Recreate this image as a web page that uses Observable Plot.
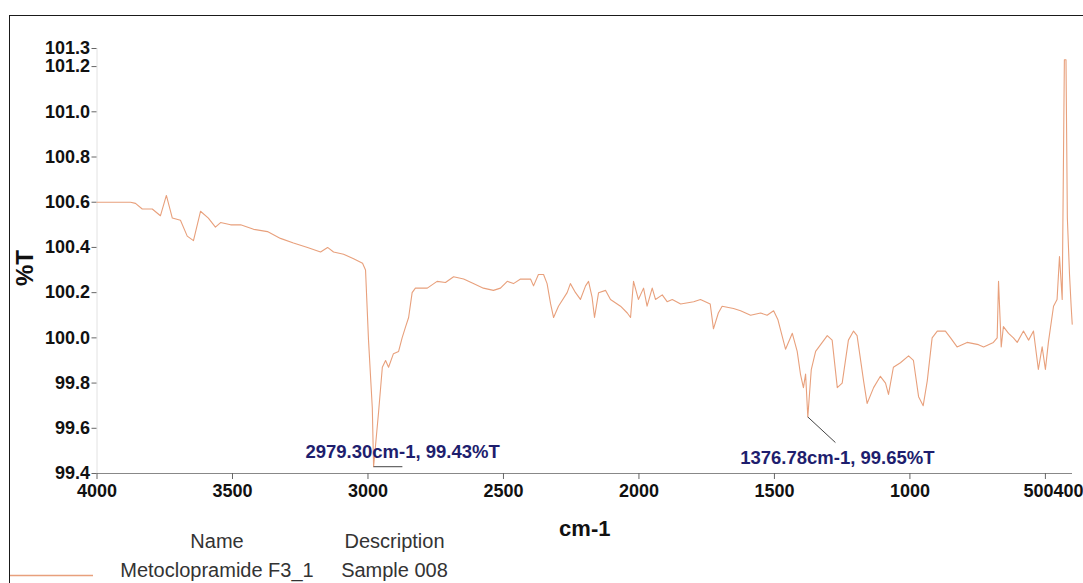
<!DOCTYPE html>
<html>
<head>
<meta charset="utf-8">
<script src="https://cdn.jsdelivr.net/npm/d3@7"></script>
<script src="https://cdn.jsdelivr.net/npm/@observablehq/plot@0.6"></script>
<style>
  html, body { margin: 0; padding: 0; background: #fff; }
  body { font-family: "Liberation Sans", Arial, sans-serif; }
  #wrap { position: relative; width: 1083px; height: 583px; overflow: hidden; background: #fff; }
  #frame { position: absolute; left: 9px; top: 15px; width: 1200px; height: 700px; border: 1.5px solid #1a1a1a; box-sizing: border-box; }
  #chart { position: absolute; left: 0; top: 0; }
  #ylab { position: absolute; left: 25px; top: 268px; transform: translate(-50%, -50%) rotate(-90deg); font-size: 24px; font-weight: bold; color: #111; white-space: nowrap; }
  .lg { position: absolute; width: 300px; text-align: center; font-size: 20px; line-height: 24px; color: #333; white-space: nowrap; }
  #lgsvg { position: absolute; left: 0; top: 568px; }
</style>
</head>
<body>
<div id="wrap">
  <div id="frame"></div>
  <div id="chart"></div>
  <div id="ylab"></div>
  <div id="legend"></div>
</div>
<script>
// ---- data ----
const wavenumber = [
  4000,3939,3876,3858,3833,3796,3766,3744,3722,3692,
  3667,3644,3618,3589,3563,3544,3507,3470,3422,3371,
  3323,3275,3223,3175,3149,3127,3090,3053,3020,3009,
  2998,2984,2979.3,2961,2947,2935,2924,2906,2887,2874,
  2861,2850,2837,2825,2781,2745,2714,2684,2647,2611,
  2574,2537,2511,2486,2463,2437,2400,2389,2371,2352,
  2339,2326,2315,2297,2265,2253,2234,2216,2197,2186,
  2173,2164,2149,2123,2105,2068,2043,2031,2020,2002,
  1983,1970,1951,1939,1914,1896,1877,1846,1798,1773,
  1737,1725,1707,1693,1651,1625,1588,1551,1527,1503,
  1487,1459,1434,1416,1404,1393,1385,1376.78,1364,1348,
  1305,1287,1268,1250,1227,1208,1195,1171,1158,1134,
  1109,1090,1079,1061,1035,1005,987,968,951,936,
  918,899,869,850,826,789,747,728,692,678,
  673,663,655,636,618,604,581,562,544,526,
  512,500,489,470,457,448,438,430,424,419,
  411,405,401
];
const transmittance = [
  100.60,100.60,100.60,100.595,100.57,100.57,100.54,100.63,100.53,100.52,
  100.45,100.43,100.56,100.53,100.49,100.51,100.50,100.50,100.48,100.47,
  100.44,100.42,100.40,100.38,100.40,100.38,100.37,100.35,100.33,100.30,
  99.99,99.69,99.43,99.67,99.87,99.90,99.87,99.93,99.94,100.00,
  100.05,100.09,100.20,100.22,100.22,100.25,100.245,100.27,100.26,100.24,
  100.22,100.21,100.22,100.25,100.24,100.26,100.26,100.23,100.28,100.28,
  100.24,100.15,100.09,100.14,100.20,100.24,100.20,100.17,100.23,100.25,
  100.18,100.09,100.20,100.21,100.17,100.14,100.11,100.09,100.25,100.17,
  100.22,100.14,100.22,100.17,100.19,100.16,100.17,100.15,100.16,100.17,
  100.15,100.04,100.11,100.14,100.13,100.12,100.10,100.11,100.10,100.12,
  100.08,99.95,100.02,99.94,99.84,99.78,99.84,99.65,99.86,99.94,
  100.01,99.99,99.78,99.80,99.99,100.03,100.01,99.81,99.71,99.78,
  99.83,99.80,99.75,99.87,99.89,99.92,99.90,99.74,99.70,99.81,
  100.00,100.03,100.03,100.00,99.96,99.98,99.97,99.96,99.98,100.00,
  100.25,99.96,100.05,100.02,100.00,99.98,100.03,99.99,100.03,99.86,
  99.96,99.86,99.98,100.14,100.17,100.36,100.17,101.23,101.23,100.53,
  100.28,100.14,100.06
];
const xTicks = [4000, 3500, 3000, 2500, 2000, 1500, 1000, 500];
const xNearEnd = [500];
const xEnd = [400];
const yTicks = [99.4, 99.6, 99.8, 100.0, 100.2, 100.4, 100.6, 100.8, 101.0, 101.2, 101.28];
const peakWn = [2979.30, 1376.78];
const peakT = [99.43, 99.65];
const leaderEndWn = [2873, 1275];
const leaderEndT = [99.43, 99.537];
const xLabel = "cm-1";
const yLabel = "%T";
const legendHeaders = ["Name", "Description"];
const legendName = ["Metoclopramide F3_1"];
const legendDesc = ["Sample 008"];

const lineColor = "#e8a07c";
const spectrum = wavenumber.map((w, i) => ({wn: w, t: transmittance[i]}));
const peaks = peakWn.map((w, i) => ({
  wn: w, t: peakT[i], wn2: leaderEndWn[i], t2: leaderEndT[i],
  label: `${w.toFixed(2)}cm-1, ${peakT[i].toFixed(2)}%T`
}));

const chart = Plot.plot({
  width: 1083,
  height: 540,
  marginLeft: 96.5,
  marginRight: 11,
  marginTop: 48,
  marginBottom: 67,
  style: {
    fontFamily: '"Liberation Sans", Arial, sans-serif',
    fontSize: "18px",
    fontWeight: "bold",
    color: "#111",
    background: "transparent",
    overflow: "visible"
  },
  x: {domain: [4000, 400]},
  y: {domain: [99.4, 101.28]},
  marks: [
    Plot.ruleX([4000], {stroke: "#e2e2e2"}),
    Plot.ruleY([99.4], {stroke: "#888"}),
    Plot.axisY({ticks: yTicks, tickSize: 5, tickPadding: 2, stroke: "#666",
      tickFormat: d => d.toFixed(1), label: null}),
    Plot.axisX({ticks: xTicks, tickSize: 6, tickPadding: 5, stroke: "#666",
      tickFormat: d => (xNearEnd.includes(d) ? "" : String(d)), label: null}),
    Plot.axisX({ticks: xNearEnd, tickSize: 0, tickPadding: 11, dx: -7,
      tickFormat: d => String(d), label: null}),
    Plot.axisX({ticks: xEnd, tickSize: 0, tickPadding: 11, textAnchor: "end", dx: 11,
      tickFormat: d => String(d), label: null}),
    Plot.line(spectrum, {x: "wn", y: "t", stroke: lineColor, strokeWidth: 1.1}),
    Plot.link(peaks, {x1: "wn", y1: "t", x2: "wn2", y2: "t2", stroke: "#444", strokeWidth: 1}),
    Plot.text(peaks.slice(0, 1), {x: "wn", y: "t", text: "label", dx: 29, dy: -15,
      fill: "#1e1e6e", fontSize: 18.5, fontWeight: "bold", textAnchor: "middle", lineAnchor: "middle"}),
    Plot.text(peaks.slice(1, 2), {x: "wn", y: "t", text: "label", dx: 29.5, dy: 41.5,
      fill: "#1e1e6e", fontSize: 18.5, fontWeight: "bold", textAnchor: "middle", lineAnchor: "middle"}),
    Plot.text([xLabel], {frameAnchor: "bottom", dy: 55, fontSize: 22, fontWeight: "bold",
      lineAnchor: "middle", fill: "#111"})
  ]
});
document.getElementById("chart").appendChild(chart);
document.getElementById("ylab").textContent = yLabel;

// legend table
const lg = document.getElementById("legend");
function addCell(text, cx, cy) {
  const d = document.createElement("div");
  d.className = "lg";
  d.textContent = text;
  d.style.left = (cx - 150) + "px";
  d.style.top = (cy - 12) + "px";
  lg.appendChild(d);
}
addCell(legendHeaders[0], 217, 541);
addCell(legendHeaders[1], 394.5, 541);
addCell(legendName[0], 217, 570);
addCell(legendDesc[0], 394.5, 570);
const ns = "http://www.w3.org/2000/svg";
const sw = document.createElementNS(ns, "svg");
sw.setAttribute("id", "lgsvg");
sw.setAttribute("width", "100");
sw.setAttribute("height", "15");
const sl = document.createElementNS(ns, "line");
sl.setAttribute("x1", "10"); sl.setAttribute("x2", "93");
sl.setAttribute("y1", "7.5"); sl.setAttribute("y2", "7.5");
sl.setAttribute("stroke", lineColor); sl.setAttribute("stroke-width", "1.3");
sw.appendChild(sl);
lg.appendChild(sw);
</script>
</body>
</html>
